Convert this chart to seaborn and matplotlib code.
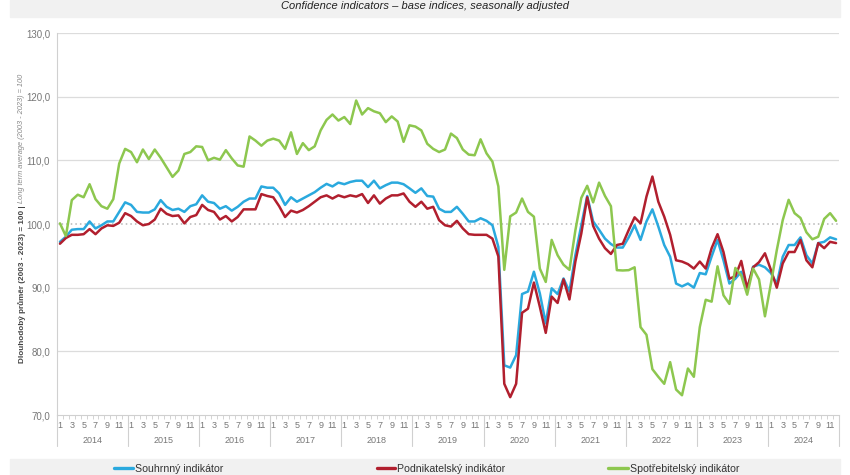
import numpy as np
import pandas as pd
import seaborn as sns
import matplotlib.pyplot as plt
from matplotlib.patches import Rectangle
from matplotlib.lines import Line2D

years = list(range(2014, 2025))
month_labels = ['1', '3', '5', '7', '9', '11']
yticks = [70, 80, 90, 100, 110, 120, 130]

souhrnny = [
    97.2, 98.0, 99.1, 99.2, 99.2, 100.4, 99.3, 99.8, 100.4, 100.4, 101.9, 103.4,
    103.0, 101.9, 101.8, 101.8, 102.3, 103.75, 102.7, 102.2, 102.4, 101.9, 102.8, 103.1,
    104.5, 103.5, 103.3, 102.4, 102.8, 102.1, 102.7, 103.5, 104.0, 104.0, 105.9, 105.7,
    105.7, 104.8, 103.0, 104.2, 103.5, 104.0, 104.5, 105.0, 105.7, 106.3, 105.9, 106.5,
    106.25, 106.6, 106.8, 106.8, 105.8, 106.8, 105.6, 106.1, 106.5, 106.5, 106.25, 105.6,
    104.9, 105.6, 104.4, 104.3, 102.4, 101.9, 101.9, 102.7, 101.6, 100.4, 100.4, 100.9,
    100.5, 99.8, 96.4, 77.8, 77.45, 79.4, 89.0, 89.4, 92.5, 89.1, 84.4, 89.9,
    89.0, 91.45, 89.4, 95.1, 99.8, 104.4, 100.4, 99.1, 97.7, 96.85, 96.3, 96.3,
    97.9, 99.8, 97.5, 100.4, 102.3, 99.6, 96.7, 94.85, 90.65, 90.2, 90.65, 90.0,
    92.3, 92.1, 94.9, 97.5, 94.3, 90.65, 91.4, 92.5, 89.6, 93.3, 93.6, 93.2,
    92.3, 90.6, 94.85, 96.7, 96.7, 97.9, 95.1, 93.8, 97.0, 97.2, 97.9, 97.6,
]

podnikatelsky = [
    96.9, 97.8, 98.3, 98.3, 98.4, 99.2, 98.4, 99.3, 99.8, 99.7, 100.2, 101.7,
    101.25, 100.4, 99.8, 100.0, 100.7, 102.4, 101.6, 101.25, 101.35, 100.1, 101.1, 101.4,
    103.0, 102.2, 101.9, 100.7, 101.25, 100.4, 101.1, 102.3, 102.3, 102.3, 104.7, 104.4,
    104.2, 102.8, 101.1, 102.1, 101.8, 102.2, 102.8, 103.5, 104.2, 104.5, 104.0, 104.5,
    104.2, 104.5, 104.3, 104.7, 103.3, 104.5, 103.2, 104.0, 104.5, 104.5, 104.8, 103.5,
    102.7, 103.5, 102.4, 102.7, 100.6, 99.8, 99.6, 100.5, 99.3, 98.4, 98.3, 98.3,
    98.3, 97.7, 94.9, 74.9, 72.8, 74.9, 86.05, 86.7, 90.8, 87.0, 82.9, 88.6,
    87.6, 91.3, 88.15, 94.1, 98.5, 104.2, 99.7, 97.7, 96.2, 95.3, 96.7, 96.9,
    99.05, 101.05, 100.1, 104.3, 107.45, 103.5, 101.15, 98.3, 94.3, 94.1, 93.7, 93.0,
    94.1, 93.0, 96.2, 98.4, 95.6, 91.4, 91.8, 94.2, 89.9, 93.2, 94.0, 95.4,
    92.8, 90.0, 93.8, 95.6, 95.6, 97.5, 94.3, 93.2, 97.0, 96.2, 97.2, 97.0,
]

spotrebitelsky = [
    100.1, 98.1, 103.75, 104.6, 104.2, 106.25, 103.9, 102.8, 102.4, 103.9, 109.5, 111.8,
    111.3, 109.7, 111.7, 110.2, 111.7, 110.4, 108.9, 107.4, 108.4, 111.0, 111.3, 112.2,
    112.1, 110.0, 110.4, 110.1, 111.6, 110.3, 109.2, 109.0, 113.75, 113.1, 112.3, 113.1,
    113.4, 113.1, 111.8, 114.4, 111.0, 112.7, 111.6, 112.2, 114.7, 116.35, 117.2, 116.25,
    116.8, 115.7, 119.4, 117.2, 118.2, 117.7, 117.4, 116.0, 116.9, 116.1, 112.9, 115.5,
    115.3, 114.7, 112.6, 111.8, 111.3, 111.7, 114.2, 113.5, 111.7, 110.9, 110.8, 113.3,
    111.1, 109.8, 105.9, 92.8, 101.2, 101.8, 104.0, 101.9, 101.15, 93.0, 90.9, 97.5,
    95.1, 93.6, 92.8, 99.0, 104.1, 106.0, 103.4, 106.5, 104.4, 102.8, 92.75, 92.7,
    92.75, 93.2, 83.8, 82.6, 77.2, 76.0, 74.9, 78.3, 74.0, 73.1, 77.3, 76.0,
    83.8, 88.1, 87.8, 93.35, 88.8, 87.45, 93.1, 91.9, 88.9, 93.0, 91.3, 85.5,
    90.6, 95.9, 100.6, 103.8, 101.7, 100.95, 98.7, 97.6, 98.0, 100.8, 101.7, 100.5,
]

names = ['Souhrnný indikátor', 'Podnikatelský indikátor', 'Spotřebitelský indikátor']
colors = {names[0]: '#2aa9de', names[1]: '#b11f2e', names[2]: '#8dc74f'}


def build_frame():
    n = len(souhrnny)
    parts = []
    for name, vals in zip(names, [souhrnny, podnikatelsky, spotrebitelsky]):
        parts.append(pd.DataFrame({'idx': np.arange(n), 'value': vals, 'series': name}))
    return pd.concat(parts, ignore_index=True)


def main():
    sns.set_style('white')
    plt.rcParams['font.family'] = ['Liberation Sans', 'DejaVu Sans']

    df = build_frame()
    n = len(souhrnny)

    fig = plt.figure(figsize=(8.5, 4.75), dpi=100)
    W, H = 850, 475
    ax = fig.add_axes([57 / W, 1 - 415 / H, (839 - 57) / W, (415 - 33) / H])

    # horizontal grid, 100 dotted
    for v in yticks:
        if v == 100:
            ax.axhline(v, color='#b5b5b5', lw=1.1, ls=(0, (1, 2)), zorder=0)
        elif v != 70:
            ax.axhline(v, color='#dcdcdc', lw=0.9, zorder=0)

    sns.lineplot(data=df, x='idx', y='value', hue='series', palette=colors,
                 hue_order=names, legend=False, ax=ax, linewidth=1.8)

    ax.set_xlim(-0.5, n - 0.5)
    ax.set_ylim(70, 130)
    ax.set_yticks(yticks)
    ax.set_yticklabels([f'{v:.1f}'.replace('.', ',') for v in yticks])
    ax.tick_params(axis='y', length=0, labelsize=7, colors='#777777', pad=5)

    pos = [y * 12 + m for y in range(len(years)) for m in range(0, 12, 2)]
    ax.set_xticks(pos)
    ax.set_xticklabels(month_labels * len(years))
    ax.set_xticks(np.arange(-0.5, n, 1), minor=True)
    ax.tick_params(axis='x', which='major', length=0, labelsize=6.5, colors='#777777', pad=4)
    ax.tick_params(axis='x', which='minor', length=3, color='#cccccc', width=0.6, bottom=True)
    ax.set_xlabel('')
    ax.set_ylabel('')

    for s in ['top', 'right']:
        ax.spines[s].set_visible(False)
    for s in ['left', 'bottom']:
        ax.spines[s].set_color('#d0d0d0')
        ax.spines[s].set_linewidth(0.8)

    tr = ax.get_xaxis_transform()
    for k, yr in enumerate(years):
        ax.text(k * 12 + 5.5, -0.066, str(yr), transform=tr, ha='center', va='center',
                fontsize=6.5, color='#777777')
    for k in range(len(years) + 1):
        ax.add_line(Line2D([k * 12 - 0.5] * 2, [0, -0.08], transform=tr, color='#d0d0d0',
                           lw=0.8, clip_on=False))

    # title band
    fig.patches.append(Rectangle((10 / W, 1 - 17 / H), 830 / W, 17 / H, transform=fig.transFigure,
                                 color='#f1f1f1', zorder=0))
    fig.text(0.5, 1 - 6 / H, 'Confidence indicators – base indices, seasonally adjusted',
             ha='center', va='center', fontsize=8, style='italic', color='#222222')

    # y label in two parts
    t1 = fig.text(22 / W, 1 - 363 / H, 'Dlouhodobý průměr (2003 - 2023) = 100 | ', rotation=90,
                  ha='center', va='bottom', fontsize=5.9, fontweight='bold', color='#444444')
    fig.canvas.draw()
    bb = t1.get_window_extent()
    fig.text(22 / W, bb.y1 / fig.bbox.height, 'Long term average (2003 - 2023) = 100', rotation=90,
             ha='center', va='bottom', fontsize=5.3, style='italic', color='#888888')

    # legend band
    fig.patches.append(Rectangle((10 / W, 0), 830 / W, 16 / H, transform=fig.transFigure,
                                 color='#f1f1f1', zorder=0))
    leg = [(114, 133, 135), (377, 395, 397), (608, 628, 630)]
    for (x0, x1, xt), name in zip(leg, names):
        fig.add_artist(Line2D([x0 / W, x1 / W], [1 - 468 / H] * 2, transform=fig.transFigure,
                              color=colors[name], lw=2.4))
        fig.text(xt / W, 1 - 468.5 / H, name, ha='left', va='center', fontsize=7.6, color='#333333')

    fig.savefig('out.png', dpi=100)


if __name__ == '__main__':
    main()
